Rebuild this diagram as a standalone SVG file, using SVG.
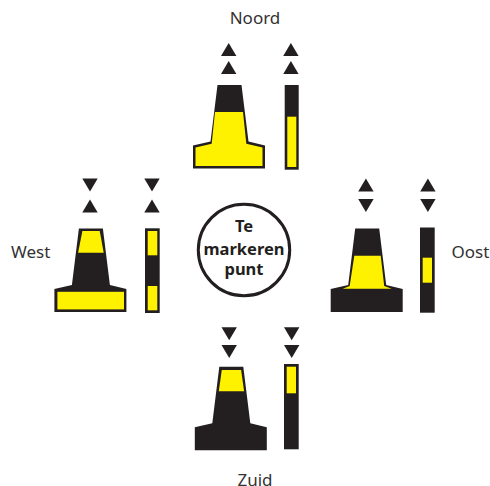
<svg xmlns="http://www.w3.org/2000/svg" width="490" height="486" viewBox="0 0 490 486">
<style>
.k{fill:#231f20}
.y{fill:#fff200}
.l{font-family:"Noto Sans","Open Sans",sans-serif;font-size:17px;fill:#333132}
.c{font-family:"Noto Sans","Open Sans",sans-serif;font-size:16.5px;font-weight:700;fill:#231f20;text-anchor:middle}
</style>
<defs>
<polygon id="cone" class="k" points="24.5,0 48.5,0 55.5,56.5 72,60.5 72,83.5 0,83.5 0,60.5 17.5,56.5"/>
<polygon id="up" class="k" points="0,13 15.4,13 7.7,0"/>
<polygon id="down" class="k" points="0,0 15.4,0 7.7,13"/>
</defs>
<g id="noord">
<text class="l" x="255" y="23.5" text-anchor="middle">Noord</text>
<use href="#up" x="221" y="43"/><use href="#up" x="221" y="61"/>
<use href="#up" x="283.2" y="43"/><use href="#up" x="283.2" y="61"/>
<g transform="translate(193,85)">
<use href="#cone"/>
<polygon class="y" points="22,27 50,27 53.3,58.7 69.5,62.5 69.5,81 2.5,81 2.5,62.5 18.7,58.7"/>
</g>
<rect class="k" x="284.7" y="85" width="14" height="84.7"/>
<rect class="y" x="287.3" y="116.7" width="9" height="50.3"/>
</g>
<g id="west">
<text class="l" x="11" y="257.5">West</text>
<use href="#down" x="82.3" y="178.5"/><use href="#up" x="82.3" y="199.5"/>
<use href="#down" x="144.3" y="178.5"/><use href="#up" x="144.3" y="199.5"/>
<g transform="translate(54.4,228.4)">
<use href="#cone"/>
<polygon class="y" points="28,2.7 45.3,2.7 49.3,24.4 23.7,24.4"/>
<rect class="y" x="3" y="63.4" width="66.6" height="17.6"/>
</g>
<rect class="k" x="145" y="228.3" width="14.7" height="84.7"/>
<rect class="y" x="147.7" y="231" width="9.6" height="24.3"/>
<rect class="y" x="147.7" y="286" width="9.6" height="24.3"/>
</g>
<g id="oost">
<text class="l" x="451.5" y="257.5">Oost</text>
<use href="#up" x="358.2" y="178.5"/><use href="#down" x="358.2" y="199"/>
<use href="#up" x="420.2" y="178.5"/><use href="#down" x="420.2" y="199"/>
<g transform="translate(330.7,228.4)">
<use href="#cone"/>
<polygon class="y" points="23.6,27.3 50,27.3 53.5,57.5 61,60.4 12,60.4 19,57.5"/>
</g>
<rect class="k" x="420" y="227.5" width="14.7" height="85.2"/>
<rect class="y" x="422.7" y="257.7" width="9.3" height="25"/>
</g>
<g id="zuid">
<text class="l" x="255" y="485.5" text-anchor="middle">Zuid</text>
<use href="#down" x="221.5" y="327.3"/><use href="#down" x="221.5" y="345"/>
<use href="#down" x="284" y="327.3"/><use href="#down" x="284" y="345"/>
<g transform="translate(194.8,366.7)">
<use href="#cone"/>
<polygon class="y" points="27,3.3 46.3,3.3 49.3,24.6 24,24.6"/>
</g>
<rect class="k" x="284" y="364" width="14.7" height="85.3"/>
<rect class="y" x="286.7" y="366.7" width="9.3" height="26.6"/>
</g>
<g id="centrum">
<circle cx="244" cy="250" r="45.7" fill="#fff" stroke="#231f20" stroke-width="3"/>
<text class="c" x="244" y="232">Te</text>
<text class="c" x="244" y="254.5">markeren</text>
<text class="c" x="244" y="275">punt</text>
</g>
<g id="connectors"/>
</svg>
